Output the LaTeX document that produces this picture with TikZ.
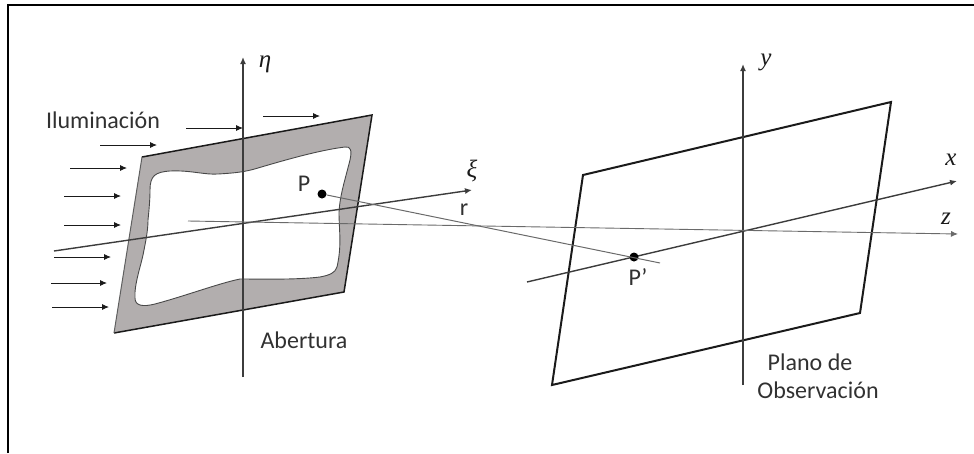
\documentclass[tikz,border=0pt]{standalone}
\usepackage{fontspec}
\setmainfont{Carlito}
\newfontfamily\symbfont{Liberation Serif}
\usetikzlibrary{positioning,arrows.meta,calc}
\definecolor{maskgray}{HTML}{B2AEAE}
\definecolor{ink}{HTML}{1A1A1A}
\tikzset{
  frameline/.style={line width=2pt,draw=black},
  plane/.style={line width=2pt,draw=ink,line join=miter},
  axis/.style={line width=1.4pt,draw=ink!85,-{Latex[length=7pt,width=6pt]}},
  thinaxis/.style={line width=0.9pt,draw=ink!65,-{Latex[length=7pt,width=6pt]}},
  ray/.style={line width=1pt,draw=ink!65},
  light/.style={line width=0.9pt,draw=ink,-{Latex[length=7pt,width=6pt]}},
  point/.style={circle,fill=black,inner sep=0pt,minimum size=9pt},
  caption/.style={font=\fontsize{24}{29}\selectfont,text=ink!90,inner sep=0pt,align=center},
  symbol/.style={font=\symbfont\itshape\fontsize{25}{29}\selectfont,text=ink,inner sep=0pt}
}
\begin{document}
\begin{tikzpicture}[x=1pt,y=-1pt]
    \useasboundingbox (0,0) rectangle (974,453);

    \coordinate (fTL) at (8,5);
    \coordinate (fTR) at (974,5);
    \coordinate (fBL) at (8,453);
    \draw[frameline] (fBL) -- (fTL) -- (fTR);

    % aperture
    \coordinate (a1) at (142,157);
    \coordinate (a2) at (372,115);
    \coordinate (a3) at (344,292);
    \coordinate (a4) at (114,333);
    \fill[maskgray] (a1) -- (a2) -- (a3) -- (a4) -- cycle;
    \draw[fill=white,line width=0.9pt,draw=ink!80] (150,190)
      .. controls (150,176) and (155,172) .. (170,171)
      .. controls (190,170) and (205,175) .. (218,174)
      .. controls (235,173) and (245,172) .. (258,168)
      .. controls (285,160) and (320,150) .. (345,147)
      .. controls (351,146) and (352,151) .. (350,160)
      .. controls (345,180) and (340,195) .. (339,212)
      .. controls (339,230) and (342,245) .. (337,267)
      .. controls (335,273) and (330,275) .. (320,277)
      .. controls (295,280) and (260,279) .. (240,279)
      .. controls (220,283) and (185,296) .. (155,304)
      .. controls (143,307) and (135,306) .. (135,298)
      .. controls (134,285) and (141,265) .. (143,255)
      .. controls (146,240) and (148,230) .. (148,220)
      .. controls (149,210) and (150,200) .. (150,190) -- cycle;
    \draw[line width=1.5pt,draw=ink] (a4) -- (a3) -- (a2) -- (a1);
    \draw[line width=1pt,draw=ink!70] (a1) -- (a4);

    % observation plane
    \coordinate (b1) at (583,175);
    \coordinate (b2) at (891,102);
    \coordinate (b3) at (860,313);
    \coordinate (b4) at (552,385);
    \draw[plane] (b1) -- (b2) -- (b3) -- (b4) -- cycle;

    % axes
    \coordinate (etaS) at (243,377);
    \coordinate (etaE) at (243,57);
    \coordinate (xiS) at (54,251);
    \coordinate (xiE) at (472,190);
    \coordinate (zS) at (188,221);
    \coordinate (zE) at (958,234);
    \coordinate (yS) at (743,385);
    \coordinate (yE) at (743,64);
    \coordinate (xS) at (527,282);
    \coordinate (xE) at (957,181);
    \coordinate (rE) at (660,263);

    \node[symbol] (eta) at (265,64) {η};
    \node[symbol] (xi) at (472,171) {ξ};
    \node[symbol] (y) at (766,62) {y};
    \node[symbol] (x) at (951,160) {x};
    \node[symbol] (z) at (946,219) {z};

    \draw[axis] (etaS) -- (etaE);
    \draw[axis] (xiS) -- (xiE);
    \draw[axis] (yS) -- (yE);
    \draw[axis] (xS) -- (xE);
    \draw[thinaxis] (zS) -- (zE);

    % points
    \node[point] (P) at (322,194) {};
    \node[point] (Pp) at (634,257) {};
    \draw[ray] (P) -- (rE);

    % illumination
    \draw[light] (263,116) -- (320,116);
    \draw[light] (186,128) -- (243,128);
    \draw[light] (100,145) -- (157,145);
    \draw[light] (70,168) -- (127,168);
    \draw[light] (64,196) -- (121,196);
    \draw[light] (64,225) -- (121,225);
    \draw[light] (54,257) -- (111,257);
    \draw[light] (51,283) -- (107,283);
    \draw[light] (52,307) -- (109,307);

    \node[caption] (ilum) at (103,120) {Iluminación};
    \node[caption] (pLabel) at (304,184) {P};
    \node[caption] (rLabel) at (464,210) {r};
    \node[caption] (pLabel2) at (638,277) {P’};
    \node[caption] (abert) at (304,340) {Abertura};
    \node[caption] (plano) at (810,362) {Plano de};
    \node[caption] (obs) at (818,390) {Observación};
\end{tikzpicture}
\end{document}
